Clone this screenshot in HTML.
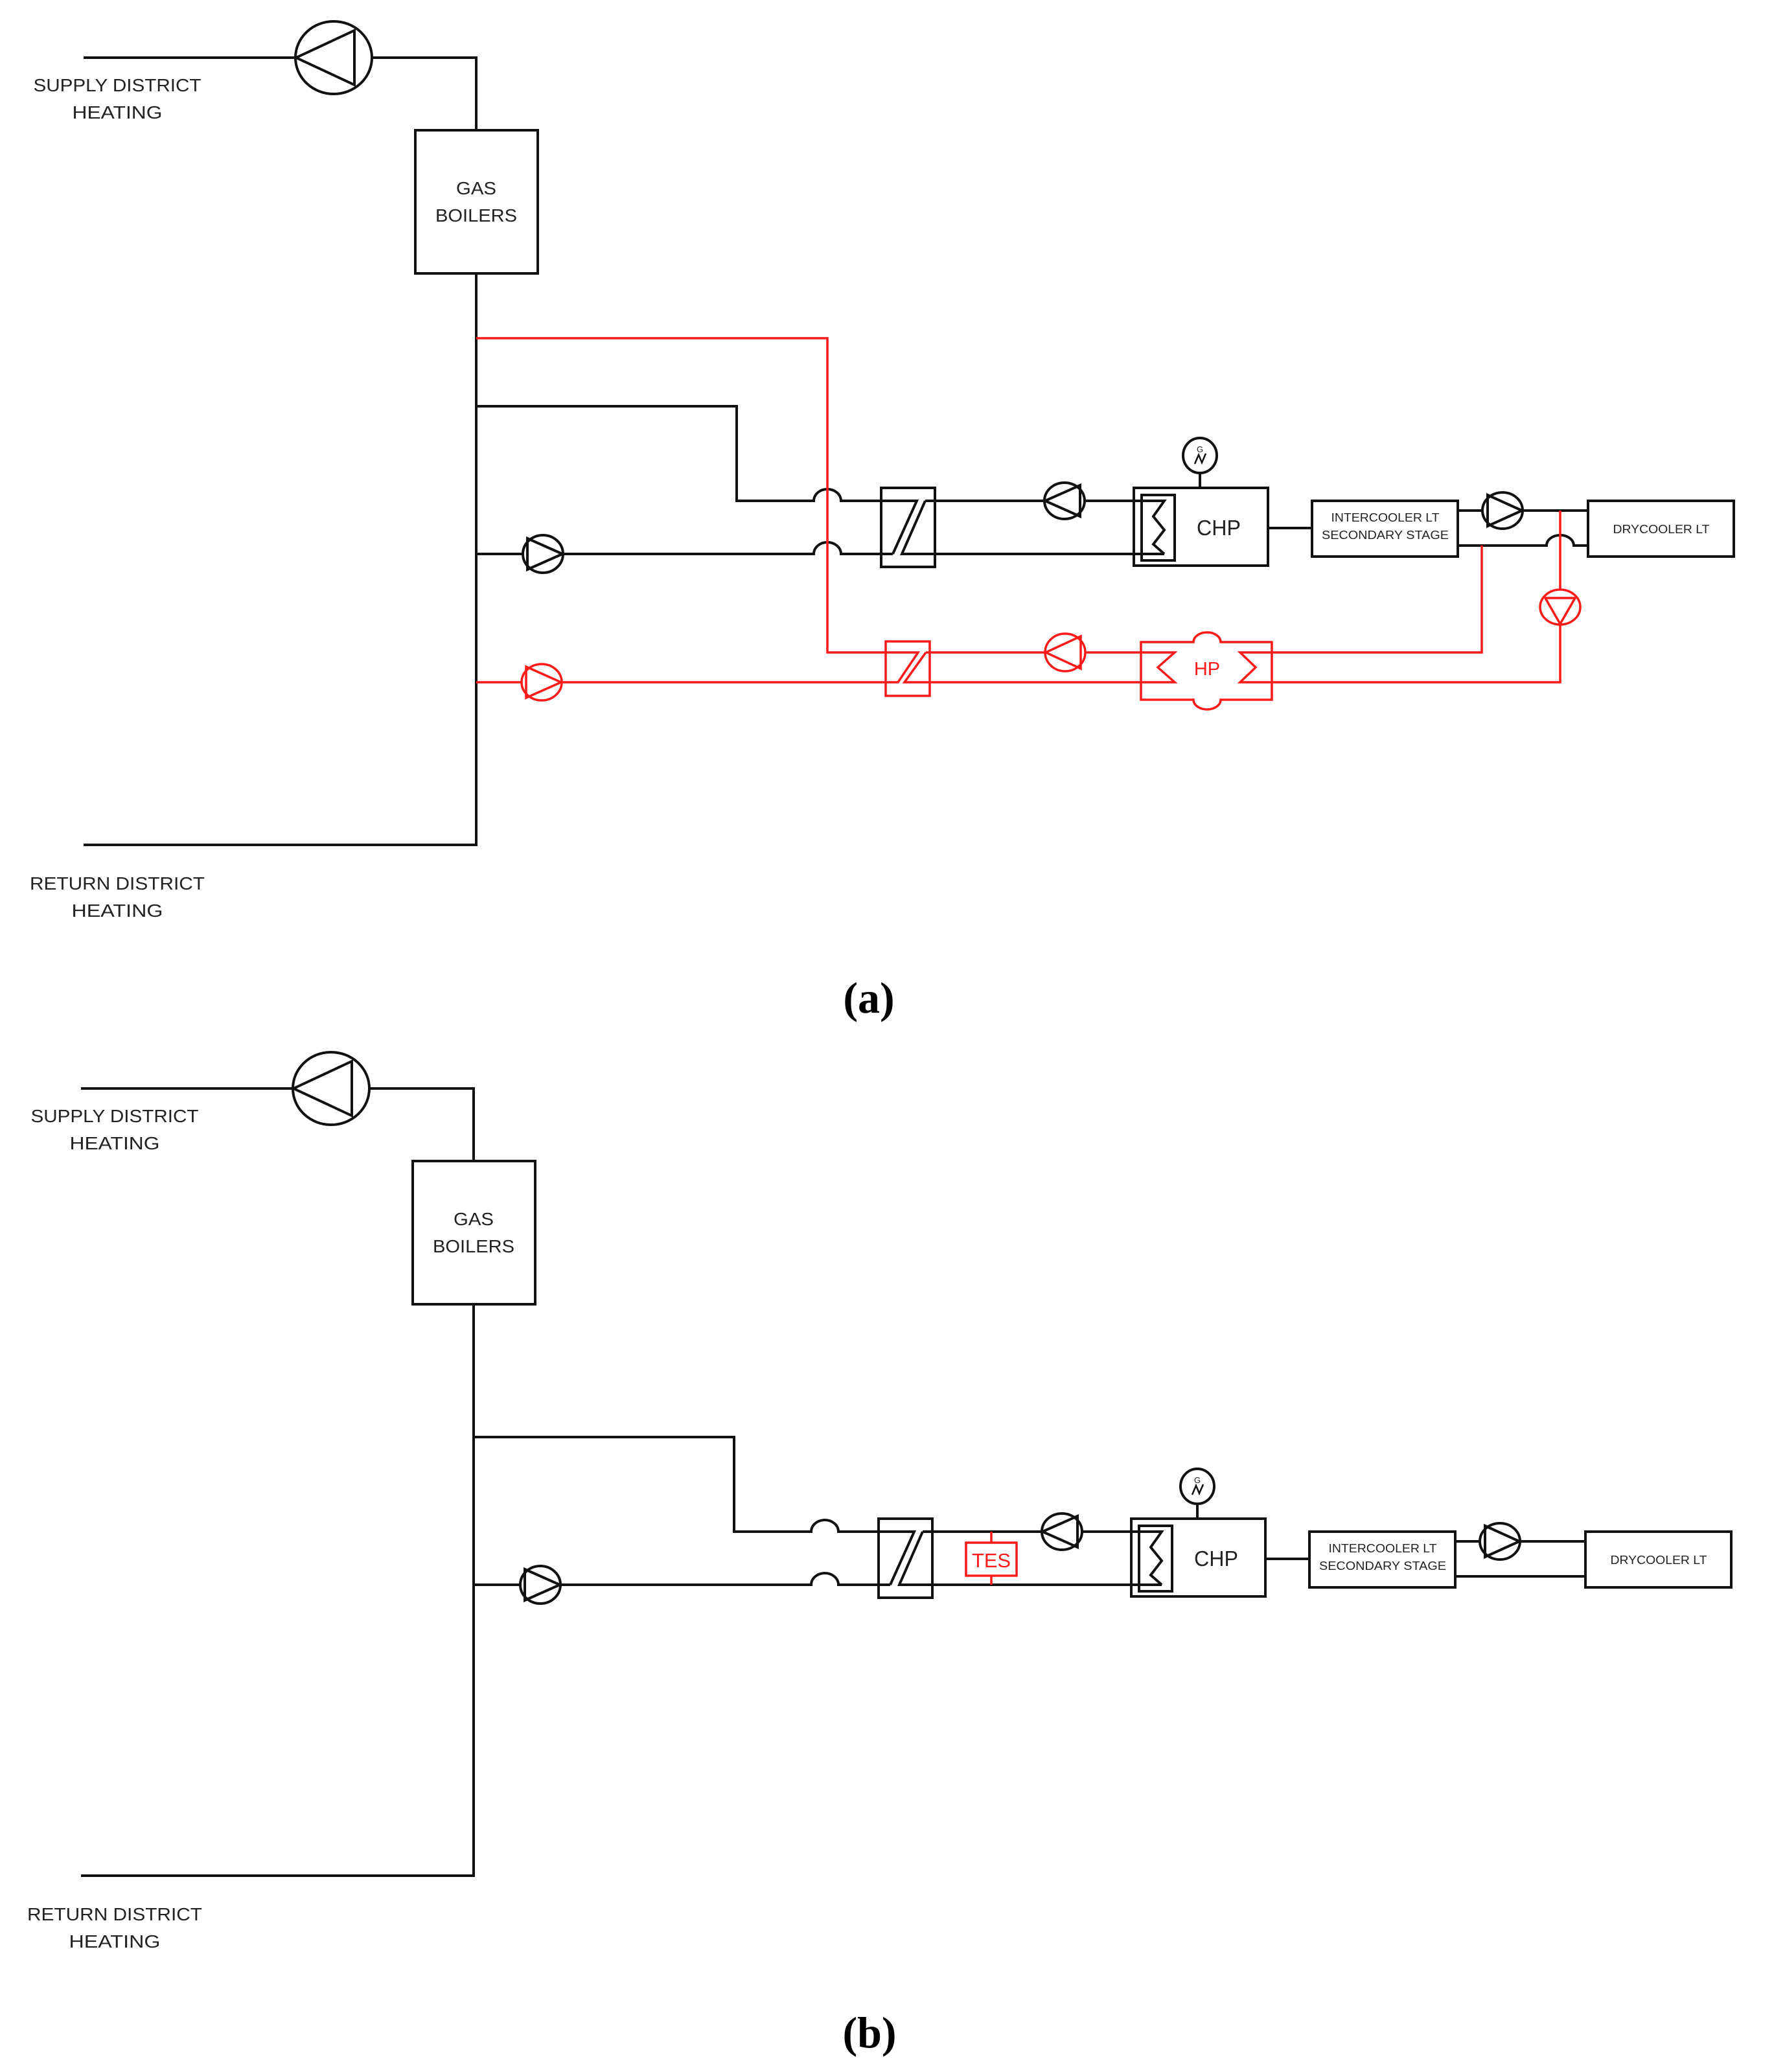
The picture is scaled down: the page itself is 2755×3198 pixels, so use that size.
<!DOCTYPE html>
<html><head><meta charset="utf-8"><style>
html,body{margin:0;padding:0;background:#fff}
svg{display:block}
text{font-family:"Liberation Sans",sans-serif;fill:#222}
</style></head><body>
<svg width="2755" height="3198" viewBox="0 0 2755 3198" xmlns="http://www.w3.org/2000/svg">
<defs>
<g id="common" fill="none" stroke="#111" stroke-width="4">
  <!-- supply -->
  <path d="M129,89 H457"/>
  <ellipse cx="515" cy="89" rx="59" ry="56"/>
  <path d="M457,89 L547,47 L547,131 Z"/>
  <path d="M574,89 H735 V201"/>
  <rect x="641" y="201" width="189" height="221"/>
  <path d="M735,422 V1304 H129"/>
  <!-- branch top -->
  <path d="M735,627 H1137 V773 H1256 A21,18 0 0 1 1298,773 H1415 L1378,855"/>
  <path d="M1428,773 L1392,855 H1797"/>
  <path d="M1428,773 H1612"/>
  <ellipse cx="1643" cy="773" rx="31" ry="28"/>
  <path d="M1613,773 L1667,749 L1667,797 Z"/>
  <path d="M1674,773 H1797 L1780,797 L1797,818 L1780,840 L1797,855"/>
  <!-- lower branch -->
  <path d="M735,855 H808"/>
  <ellipse cx="838" cy="855" rx="31" ry="29"/>
  <path d="M814,831 L814,879 L868,855 Z"/>
  <path d="M869,855 H1256 A21,18 0 0 1 1298,855 H1378"/>
  <rect x="1360" y="753" width="83" height="122"/>
  <!-- CHP -->
  <rect x="1750" y="753" width="207" height="120"/>
  <rect x="1762" y="764" width="51" height="101"/>
  <ellipse cx="1852" cy="703" rx="26" ry="27"/>
  <path d="M1852,730 V753"/>
  <path d="M1844,716 L1850,702 L1855,714 L1861,700" stroke-width="2.5"/>
  <path d="M1957,815 H2025"/>
  <!-- intercooler -->
  <rect x="2025" y="773" width="225" height="86"/>
  <path d="M2250,788 H2288"/>
  <ellipse cx="2319" cy="788" rx="31" ry="28"/>
  <path d="M2296,764 L2296,812 L2349,788 Z"/>
  <path d="M2350,788 H2451"/>
  <rect x="2451" y="773" width="225" height="86"/>
</g>
</defs>

<!-- (a) -->
<use href="#common"/>
<path d="M2250,842 H2387 A21,16 0 0 1 2429,842 H2451" fill="none" stroke="#111" stroke-width="4"/>
<g fill="none" stroke="#ff1a1a" stroke-width="3.5">
  <path d="M735,522 H1277 V1007 H1417 L1386,1053 H867"/>
  <path d="M1429,1007 L1396,1053 H1813 L1787,1030 L1813,1007 H1675"/>
  <path d="M1429,1007 H1614"/>
  <ellipse cx="1644" cy="1007" rx="31" ry="29"/>
  <path d="M1614,1007 L1668,982 L1668,1032 Z"/>
  <rect x="1367" y="990" width="68" height="84"/>
  <path d="M1761,991 H1842 A21,15 0 0 1 1884,991 H1963 V1080 H1884 A21,15 0 0 1 1842,1080 H1761 Z"/>
  <path d="M1963,1007 H1914 L1938,1030 L1914,1053 H2408 V964"/>
  <path d="M1963,1007 H2287 V842"/>
  <ellipse cx="2408" cy="937" rx="31" ry="27"/>
  <path d="M2385,923 H2431 L2408,963 Z"/>
  <path d="M2408,910 V788"/>
  <path d="M805,1053 H735"/>
  <ellipse cx="836" cy="1053" rx="31" ry="28"/>
  <path d="M812,1029 L812,1077 L866,1053 Z"/>
</g>
<text x="1863" y="1042" font-size="29" text-anchor="middle" style="fill:#ff1a1a">HP</text>

<g font-size="28" text-anchor="middle">
  <text x="181" y="141" textLength="259" lengthAdjust="spacingAndGlyphs">SUPPLY DISTRICT</text>
  <text x="181" y="183" textLength="139" lengthAdjust="spacingAndGlyphs">HEATING</text>
  <text x="735" y="300" textLength="62" lengthAdjust="spacingAndGlyphs">GAS</text>
  <text x="735" y="342" textLength="126" lengthAdjust="spacingAndGlyphs">BOILERS</text>
  <text x="181" y="1373" textLength="270" lengthAdjust="spacingAndGlyphs">RETURN DISTRICT</text>
  <text x="181" y="1415" textLength="141" lengthAdjust="spacingAndGlyphs">HEATING</text>
  <text x="1881" y="826" font-size="33" textLength="68" lengthAdjust="spacingAndGlyphs">CHP</text>
  <text x="2138" y="805" font-size="18" textLength="167" lengthAdjust="spacingAndGlyphs">INTERCOOLER LT</text>
  <text x="2138" y="832" font-size="18" textLength="196" lengthAdjust="spacingAndGlyphs">SECONDARY STAGE</text>
  <text x="2564" y="823" font-size="18" textLength="149" lengthAdjust="spacingAndGlyphs">DRYCOOLER LT</text>
  <text x="1852" y="698" font-size="13">G</text>
</g>
<text x="1341" y="1563" font-size="68" text-anchor="middle" style="font-family:'Liberation Serif',serif;font-weight:bold;fill:#000">(a)</text>

<!-- (b) -->
<g transform="translate(-4,1591)">
  <use href="#common"/>
  <path d="M2250,842 H2451" fill="none" stroke="#111" stroke-width="4"/>
  <g fill="none" stroke="#ff1a1a" stroke-width="3.5">
    <path d="M1534,773 V790 M1534,841 V855"/>
    <rect x="1495" y="790" width="78" height="51"/>
  </g>
  <text x="1534" y="828" font-size="31" text-anchor="middle" textLength="60" lengthAdjust="spacingAndGlyphs" style="fill:#ff1a1a">TES</text>
  <g font-size="28" text-anchor="middle">
    <text x="181" y="141" textLength="259" lengthAdjust="spacingAndGlyphs">SUPPLY DISTRICT</text>
    <text x="181" y="183" textLength="139" lengthAdjust="spacingAndGlyphs">HEATING</text>
    <text x="735" y="300" textLength="62" lengthAdjust="spacingAndGlyphs">GAS</text>
    <text x="735" y="342" textLength="126" lengthAdjust="spacingAndGlyphs">BOILERS</text>
    <text x="181" y="1373" textLength="270" lengthAdjust="spacingAndGlyphs">RETURN DISTRICT</text>
    <text x="181" y="1415" textLength="141" lengthAdjust="spacingAndGlyphs">HEATING</text>
    <text x="1881" y="826" font-size="33" textLength="68" lengthAdjust="spacingAndGlyphs">CHP</text>
    <text x="2138" y="805" font-size="18" textLength="167" lengthAdjust="spacingAndGlyphs">INTERCOOLER LT</text>
    <text x="2138" y="832" font-size="18" textLength="196" lengthAdjust="spacingAndGlyphs">SECONDARY STAGE</text>
    <text x="2564" y="823" font-size="18" textLength="149" lengthAdjust="spacingAndGlyphs">DRYCOOLER LT</text>
    <text x="1852" y="698" font-size="13">G</text>
  </g>
</g>
<text x="1342" y="3160" font-size="68" text-anchor="middle" style="font-family:'Liberation Serif',serif;font-weight:bold;fill:#000">(b)</text>
</svg>
</body></html>
